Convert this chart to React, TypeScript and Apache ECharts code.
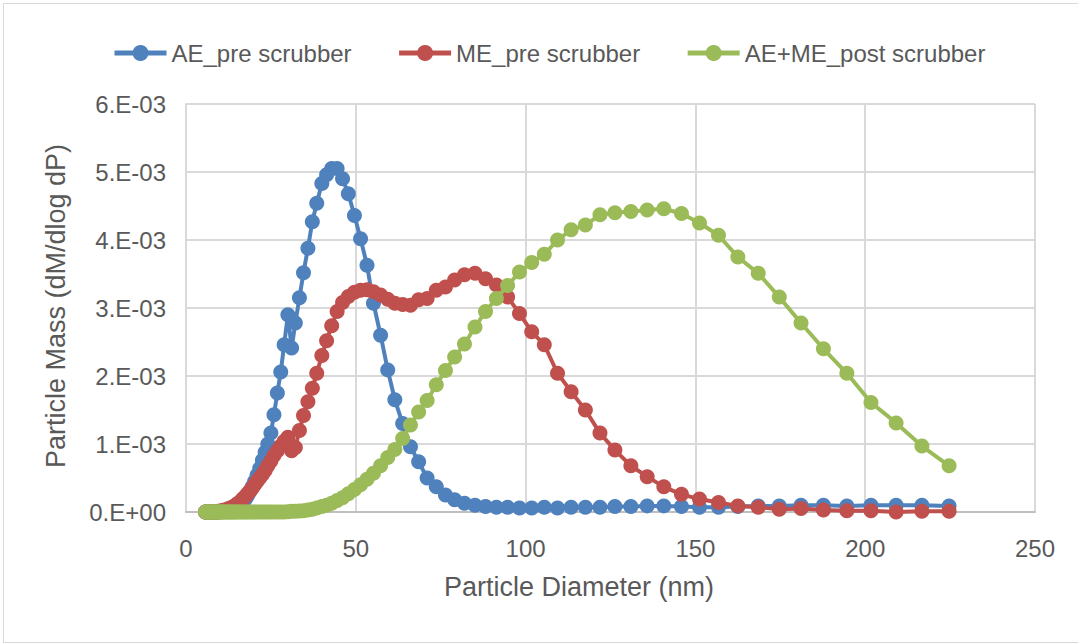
import React, { useEffect, useRef } from "react";
import * as echarts from "echarts";

// Particle diameter (nm), SMPS channel midpoints
const diameters = [
  5.73, 5.94, 6.15, 6.38, 6.61, 6.85, 7.10, 7.37, 7.64, 7.91, 8.20, 8.51, 8.82, 9.14, 9.47, 9.82,
  10.2, 10.6, 10.9, 11.3, 11.8, 12.2, 12.6, 13.1, 13.6, 14.1, 14.6, 15.1, 15.7, 16.3, 16.8, 17.5,
  18.1, 18.8, 19.5, 20.2, 20.9, 21.7, 22.5, 23.3, 24.1, 25.0, 25.9, 26.9, 27.9, 28.9, 30.0, 31.1,
  32.2, 33.4, 34.6, 35.9, 37.2, 38.5, 40.0, 41.4, 42.9, 44.5, 46.1, 47.8, 49.6, 51.4, 53.3, 55.2,
  57.3, 59.4, 61.5, 63.8, 66.1, 68.5, 71.0, 73.7, 76.4, 79.1, 82.0, 85.1, 88.2, 91.4, 94.7, 98.2,
  101.8, 105.5, 109.4, 113.4, 117.6, 121.9, 126.3, 131.0, 135.8, 140.7, 145.9, 151.2, 156.8, 162.5,
  168.5, 174.7, 181.1, 187.7, 194.6, 201.7, 209.1, 216.7, 224.7,
];

// Values in units of 1E-03
const aePre = [
  0, 0, 0, 0, 0, 0, 0, 0, 0, 0, 0, 0, 0, 0, 0, 0,
  0.01, 0.01, 0.01, 0.01, 0.01, 0.02, 0.02, 0.02, 0.03, 0.04, 0.05, 0.06, 0.08, 0.11, 0.14, 0.19,
  0.24, 0.30, 0.37, 0.45, 0.54, 0.64, 0.76, 0.88, 1.00, 1.16, 1.43, 1.75, 2.06, 2.46, 2.90, 2.41,
  2.78, 3.15, 3.52, 3.88, 4.27, 4.54, 4.83, 4.96, 5.05, 5.05, 4.90, 4.68, 4.36, 4.02, 3.63, 3.07,
  2.60, 2.09, 1.65, 1.30, 0.96, 0.74, 0.50, 0.37, 0.25, 0.18, 0.13, 0.10, 0.08, 0.07, 0.07, 0.06,
  0.06, 0.07, 0.06, 0.07, 0.07, 0.07, 0.08, 0.08, 0.09, 0.09, 0.08, 0.07, 0.07, 0.08,
  0.09, 0.09, 0.10, 0.10, 0.09, 0.10, 0.10, 0.10, 0.09,
];

const mePre = [
  0, 0, 0, 0, 0, 0, 0, 0, 0, 0, 0, 0, 0, 0.005, 0.01, 0.01,
  0.01, 0.02, 0.02, 0.03, 0.03, 0.04, 0.05, 0.06, 0.07, 0.08, 0.10, 0.12, 0.14, 0.17, 0.20, 0.23,
  0.27, 0.31, 0.35, 0.40, 0.45, 0.50, 0.55, 0.61, 0.68, 0.75, 0.83, 0.90, 0.97, 1.04, 1.10, 0.90,
  0.95, 1.20, 1.42, 1.62, 1.82, 2.04, 2.30, 2.52, 2.74, 2.95, 3.08, 3.17, 3.23, 3.26, 3.27, 3.24,
  3.19, 3.13, 3.07, 3.05, 3.04, 3.12, 3.14, 3.26, 3.31, 3.41, 3.49, 3.51, 3.43, 3.34, 3.16, 2.92,
  2.65, 2.46, 2.04, 1.77, 1.50, 1.16, 0.91, 0.68, 0.52, 0.37, 0.26, 0.19, 0.14, 0.09,
  0.07, 0.04, 0.05, 0.03, 0.02, 0.02, 0.00, 0.01, 0.01,
];

const aeMePost = [
  0, 0, 0, 0, 0, 0, 0, 0, 0, 0, 0, 0, 0, 0, 0, 0,
  0, 0, 0, 0, 0, 0, 0, 0, 0, 0, 0, 0, 0, 0, 0, 0,
  0, 0, 0, 0, 0, 0, 0, 0, 0, 0, 0, 0, 0, 0, 0.005, 0.01,
  0.01, 0.015, 0.02, 0.03, 0.04, 0.06, 0.08, 0.10, 0.13, 0.17, 0.21, 0.27, 0.33, 0.40, 0.48, 0.57,
  0.68, 0.80, 0.92, 1.08, 1.28, 1.47, 1.64, 1.87, 2.08, 2.28, 2.47, 2.72, 2.95, 3.14, 3.33, 3.53,
  3.67, 3.79, 4.00, 4.15, 4.22, 4.37, 4.40, 4.42, 4.44, 4.46, 4.39, 4.25, 4.07, 3.75,
  3.51, 3.16, 2.78, 2.40, 2.04, 1.61, 1.31, 0.97, 0.68,
];

const seriesNames = ["AE_pre scrubber", "ME_pre scrubber", "AE+ME_post scrubber"];
const seriesColors = ["#4F81BD", "#C0504D", "#9BBB59"];
const yTickLabels = ["0.E+00", "1.E-03", "2.E-03", "3.E-03", "4.E-03", "5.E-03", "6.E-03"];
const xTitle = "Particle Diameter (nm)";
const yTitle = "Particle Mass (dM/dlog dP)";

export default function App() {
  const ref = useRef<HTMLDivElement>(null);

  useEffect(() => {
    if (!ref.current) return;
    const chart = echarts.init(ref.current, null, { renderer: "svg" });
    const font = "'Liberation Sans', Arial, sans-serif";
    const values = [aePre, mePre, aeMePost];
    const series = seriesNames.map((name, k) => ({
      name,
      type: "line",
      data: diameters.map((d, i) => [d, values[k][i]]),
      symbol: "circle",
      symbolSize: 15,
      showSymbol: true,
      showAllSymbol: true,
      itemStyle: { color: seriesColors[k] },
      lineStyle: { color: seriesColors[k], width: 4 },
      emphasis: { disabled: true },
      z: 2 + k,
    }));

    chart.setOption({
      animation: false,
      textStyle: { fontFamily: font },
      legend: {
        left: 107,
        top: 36,
        itemWidth: 52,
        itemHeight: 20,
        itemGap: 45,
        data: seriesNames,
        lineStyle: { width: 5 },
        textStyle: { fontSize: 24, color: "#595959", fontFamily: font },
      },
      grid: { left: 186, right: 43, top: 104, bottom: 132 },
      xAxis: {
        type: "value",
        min: 0,
        max: 250,
        interval: 50,
        axisLine: { show: true, lineStyle: { color: "#bfbfbf", width: 2 } },
        axisTick: { show: false },
        splitLine: { show: true, lineStyle: { color: "#d9d9d9", width: 2 } },
        axisLabel: { fontSize: 24, color: "#595959", margin: 24, fontFamily: font },
      },
      yAxis: {
        type: "value",
        min: 0,
        max: 6,
        interval: 1,
        axisLine: { show: true, lineStyle: { color: "#d9d9d9", width: 2 } },
        axisTick: { show: false },
        splitLine: { show: true, lineStyle: { color: "#d9d9d9", width: 2 } },
        axisLabel: {
          fontSize: 24,
          color: "#595959",
          margin: 20,
          fontFamily: font,
          formatter: (v: number) => yTickLabels[Math.round(v)] ?? "",
        },
      },
      graphic: [
        {
          type: "text",
          x: 579,
          y: 587,
          style: {
            text: xTitle,
            fontSize: 27,
            fontFamily: font,
            fill: "#595959",
            align: "center",
            verticalAlign: "middle",
          },
        },
        {
          type: "text",
          x: 56,
          y: 306,
          rotation: Math.PI / 2,
          style: {
            text: yTitle,
            fontSize: 27,
            fontFamily: font,
            fill: "#595959",
            align: "center",
            verticalAlign: "middle",
          },
        },
      ],
      series,
    });

    return () => chart.dispose();
  }, []);

  return (
    <div style={{ position: "absolute", left: 0, top: 0, width: 1078, height: 644, background: "#fff" }}>
      <div
        style={{
          position: "absolute",
          left: 3,
          top: 3,
          width: 1075,
          height: 640,
          boxSizing: "border-box",
          borderLeft: "1px solid #d9d9d9",
          borderTop: "1px solid #d9d9d9",
          borderBottom: "1px solid #d9d9d9",
        }}
      />
      <div ref={ref} style={{ position: "absolute", left: 0, top: 0, width: 1078, height: 644 }} />
    </div>
  );
}
